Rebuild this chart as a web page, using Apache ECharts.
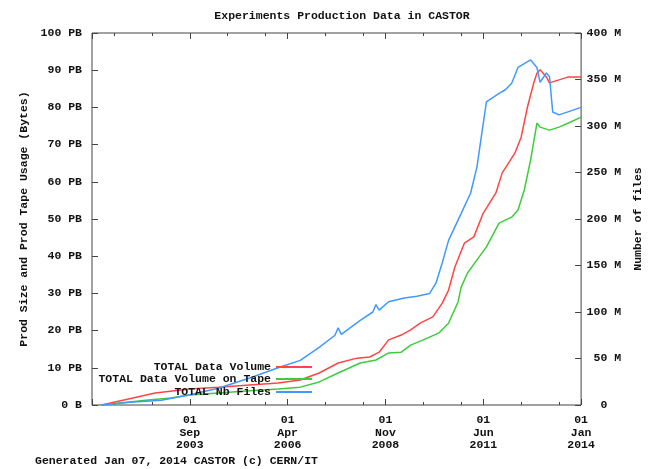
<!DOCTYPE html>
<html>
<head>
<meta charset="utf-8">
<script src="https://cdn.jsdelivr.net/npm/echarts@6.0.0/dist/echarts.min.js"></script>
<style>
  html, body { margin: 0; padding: 0; background: #ffffff; }
  #chart { width: 652px; height: 469px; }
</style>
</head>
<body>
<div id="chart"></div>
<script>
// CASTOR production data: total volume and tape volume (PB), number of files (millions)
const volumeDates = ['2001-05','2002-03','2002-10','2003-09','2004-06','2005-04','2006-01','2006-08','2007-02','2007-08','2008-02','2008-06','2008-09','2008-12','2009-04','2009-07','2009-10','2010-02','2010-05','2010-07','2010-09','2010-12','2011-03','2011-06','2011-10','2011-12','2012-04','2012-06','2012-08','2012-10','2012-11','2012-12','2013-02','2013-03','2013-06','2013-09','2014-01'];
const volumeValues = [0, 1.9, 3.2, 4.3, 4.8, 5.4, 5.9, 6.7, 8.6, 11.3, 12.6, 12.9, 14.2, 17.5, 18.8, 20.2, 22.0, 23.7, 27.4, 30.9, 37.1, 43.5, 45.2, 51.6, 57.0, 62.4, 67.7, 72.0, 80.1, 86.6, 89.2, 90.1, 88.2, 86.6, 87.4, 88.2, 88.2];

const tapeDates = ['2001-05','2002-07','2003-03','2003-09','2004-06','2005-04','2006-01','2006-08','2007-02','2007-08','2008-03','2008-08','2008-12','2009-04','2009-07','2009-11','2010-04','2010-07','2010-10','2010-11','2011-01','2011-04','2011-07','2011-11','2012-03','2012-05','2012-07','2012-09','2012-11','2012-12','2013-03','2013-06','2013-09','2014-01'];
const tapeValues = [0, 1.3, 1.9, 2.7, 3.2, 3.8, 4.3, 4.8, 6.2, 8.6, 11.3, 12.1, 14.0, 14.2, 16.1, 17.5, 19.4, 22.0, 27.7, 31.7, 35.5, 39.0, 42.5, 48.9, 50.5, 52.4, 57.8, 65.9, 75.8, 74.7, 73.9, 74.7, 75.8, 77.4];

const filesDates = ['2001-05','2002-02','2002-12','2003-09','2004-06','2005-04','2006-01','2006-08','2007-02','2007-07','2007-08','2007-09','2008-03','2008-07','2008-08','2008-09','2008-12','2009-05','2009-09','2010-01','2010-03','2010-05','2010-07','2010-11','2011-02','2011-04','2011-06','2011-07','2011-11','2012-01','2012-03','2012-05','2012-09','2012-11','2012-12','2013-02','2013-03','2013-04','2013-06','2014-01'];
const filesValues = [0, 3, 5, 11, 18, 29, 40, 48, 62, 75, 83, 76, 91, 100, 108, 102, 111, 115, 117, 120, 131, 153, 177, 206, 228, 256, 303, 326, 335, 339, 346, 363, 371, 363, 347, 357, 353, 315, 312, 320];

// time axis ticks
const majorTickDates = ['2003-09','2006-04','2008-11','2011-06','2014-01'];
const minorTickDates = ['2001-09','2002-09','2004-09','2005-09','2007-04','2008-04','2009-11','2010-11','2012-06','2013-06'];

const seriesNames = ['TOTAL Data Volume', 'TOTAL Data Volume on Tape', 'TOTAL Nb Files'];
const seriesColors = ['#ff4545', '#3ccc3c', '#4199ff'];

const MONTH_NAMES = ['Jan','Feb','Mar','Apr','May','Jun','Jul','Aug','Sep','Oct','Nov','Dec'];
const ORIGIN_YEAR = 2001, ORIGIN_MONTH = 2;   // axis starts 01 Feb 2001

function monthIndex(s) {
  const [y, m] = s.split('-').map(Number);
  return (y - ORIGIN_YEAR) * 12 + (m - ORIGIN_MONTH);
}
function monthLabel(v) {
  const total = ORIGIN_YEAR * 12 + (ORIGIN_MONTH - 1) + Math.round(v);
  return '01\n' + MONTH_NAMES[total % 12] + '\n' + Math.floor(total / 12);
}
function pairs(dates, values) {
  return dates.map((d, i) => [monthIndex(d), values[i]]);
}

const FONT = 'Liberation Mono';
const TICK_COLOR = '#444';
const textBase = { fontFamily: FONT, fontWeight: 'bold', fontSize: 11.5, color: '#111' };
const X_MIN = 0, X_MAX = monthIndex('2014-01'), X_STEP = 31;
const majorTicks = majorTickDates.map(monthIndex);
const minorTicks = minorTickDates.map(monthIndex);

function xAxisDef(position, showLabels, minor) {
  return {
    type: 'value', position: position, min: X_MIN, max: X_MAX, interval: X_STEP,
    axisLine: { show: false, onZero: false },
    splitLine: { show: false },
    axisTick: minor
      ? { show: true, inside: true, length: 3, customValues: minorTicks, lineStyle: { color: TICK_COLOR } }
      : { show: true, inside: true, length: 6, lineStyle: { color: TICK_COLOR } },
    axisLabel: showLabels
      ? Object.assign({ show: true, margin: 9, lineHeight: 12.5,
          formatter: v => (v === X_MIN ? '' : monthLabel(v)) }, textBase)
      : { show: false }
  };
}

function legendDef(name, top) {
  return {
    data: [name], right: 340, top: top, orient: 'vertical', align: 'right',
    padding: 0, itemWidth: 36, itemHeight: 2, icon: 'rect',
    textStyle: Object.assign({}, textBase)
  };
}

const chart = echarts.init(document.getElementById('chart'), null, { renderer: 'canvas' });
chart.setOption({
  animation: false,
  backgroundColor: '#ffffff',
  title: {
    text: 'Experiments Production Data in CASTOR',
    left: 337, top: 5, textAlign: 'center',
    textStyle: Object.assign({}, textBase)
  },
  graphic: [{
    type: 'text', left: 35, top: 455,
    style: Object.assign({ text: 'Generated Jan 07, 2014 CASTOR (c) CERN/IT',
      font: 'bold 11.5px "Liberation Mono"', fill: '#111' })
  }],
  legend: [
    legendDef(seriesNames[0], 361),
    legendDef(seriesNames[1], 373),
    legendDef(seriesNames[2], 386)
  ],
  grid: {
    left: 92, right: 69, top: 33, bottom: 64,
    show: true, borderColor: '#444', borderWidth: 1, backgroundColor: '#ffffff'
  },
  xAxis: [
    xAxisDef('bottom', true, false),
    xAxisDef('bottom', false, true),
    xAxisDef('top', false, false),
    xAxisDef('top', false, true)
  ],
  yAxis: [
    {
      type: 'value', position: 'left', min: 0, max: 100, interval: 10,
      name: 'Prod Size and Prod Tape Usage (Bytes)',
      nameLocation: 'middle', nameGap: 56, nameRotate: 90,
      nameTextStyle: Object.assign({}, textBase),
      axisLine: { show: false, onZero: false },
      splitLine: { show: false },
      axisTick: { show: true, inside: true, length: 6, lineStyle: { color: TICK_COLOR } },
      axisLabel: Object.assign({ margin: 10, formatter: v => (v === 0 ? '0 B' : v + ' PB') }, textBase)
    },
    {
      type: 'value', position: 'right', min: 0, max: 400, interval: 50,
      name: 'Number of files',
      nameLocation: 'middle', nameGap: 50, nameRotate: 90,
      nameTextStyle: Object.assign({}, textBase),
      axisLine: { show: false, onZero: false },
      splitLine: { show: false },
      axisTick: { show: true, inside: true, length: 6, lineStyle: { color: TICK_COLOR } },
      axisLabel: Object.assign({ margin: 40, align: 'right',
        formatter: v => (v === 0 ? '0  ' : v + ' M') }, textBase)
    }
  ],
  series: [
    {
      name: seriesNames[0], type: 'line', xAxisIndex: 0, yAxisIndex: 0,
      data: pairs(volumeDates, volumeValues), showSymbol: false,
      lineStyle: { width: 1.5, color: seriesColors[0] }, itemStyle: { color: seriesColors[0] }
    },
    {
      name: seriesNames[1], type: 'line', xAxisIndex: 0, yAxisIndex: 0,
      data: pairs(tapeDates, tapeValues), showSymbol: false,
      lineStyle: { width: 1.5, color: seriesColors[1] }, itemStyle: { color: seriesColors[1] }
    },
    {
      name: seriesNames[2], type: 'line', xAxisIndex: 0, yAxisIndex: 1,
      data: pairs(filesDates, filesValues), showSymbol: false,
      lineStyle: { width: 1.5, color: seriesColors[2] }, itemStyle: { color: seriesColors[2] }
    }
  ]
});
</script>
</body>
</html>
